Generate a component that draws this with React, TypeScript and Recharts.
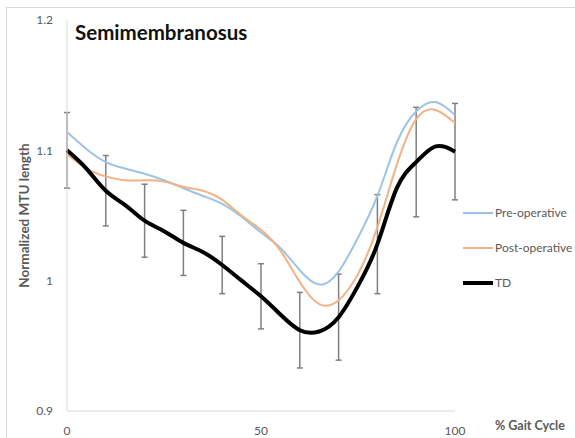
import React from 'react';
import { ComposedChart, Line, Scatter, ErrorBar, XAxis, YAxis, Legend } from 'recharts';

// % gait cycle sample points
const gait = [0, 5, 10, 15, 20, 25, 30, 35, 40, 45, 50, 55, 60, 65, 70, 75, 80, 85, 90, 95, 100];

const preOp = [1.114, 1.101, 1.091, 1.086, 1.082, 1.077, 1.071, 1.065, 1.059, 1.049, 1.037, 1.025, 1.008, 0.997, 1.007, 1.033, 1.065, 1.106, 1.130, 1.137, 1.127];
const postOp = [1.097, 1.086, 1.080, 1.077, 1.077, 1.076, 1.072, 1.069, 1.062, 1.050, 1.039, 1.023, 0.999, 0.982, 0.985, 1.005, 1.041, 1.089, 1.124, 1.131, 1.121];
const td = [1.100, 1.086, 1.069, 1.058, 1.046, 1.038, 1.029, 1.022, 1.012, 1.000, 0.988, 0.974, 0.962, 0.961, 0.972, 0.996, 1.028, 1.071, 1.091, 1.103, 1.099];

// TD standard deviation, every 10%
const sdGait = [0, 10, 20, 30, 40, 50, 60, 70, 80, 90, 100];
const tdSd = [0.029, 0.027, 0.028, 0.025, 0.022, 0.025, 0.029, 0.033, 0.038, 0.042, 0.037];

const yTicks = [0.9, 1, 1.1, 1.2];
const xTicks = [0, 50, 100];
const legendOrder = ['Pre-operative', 'Post-operative', 'TD'];

const rows = gait.map((x, i) => ({ x, pre: preOp[i], post: postOp[i], td: td[i] }));
const sdRows = sdGait.map((x, i) => ({ x, y: td[gait.indexOf(x)], sd: tdSd[i] }));

const FONT = 'Lato, "Open Sans", sans-serif';
const GRAY_TXT = '#595959';

const legendWidths: Record<string, number> = { 'Pre-operative': 2, 'Post-operative': 2, TD: 4 };

const LegendBox = (props: any) => {
  const items = (props.payload || [])
    .filter((p: any) => p.type !== 'none')
    .sort((a: any, b: any) => legendOrder.indexOf(a.value) - legendOrder.indexOf(b.value));
  return (
    <div style={{ fontFamily: FONT, fontSize: 12, color: GRAY_TXT }}>
      {items.map((p: any) => (
        <div key={p.value} style={{ height: 35, display: 'flex', alignItems: 'center' }}>
          <svg width={30} height={6} style={{ marginRight: 2 }}>
            <line x1={0} y1={3} x2={30} y2={3} stroke={p.color} strokeWidth={legendWidths[p.value] || 2} />
          </svg>
          <span>{p.value}</span>
        </div>
      ))}
    </div>
  );
};

const YLabel = ({ viewBox }: any) => (
  <text
    x={viewBox.x - 1}
    y={viewBox.y + viewBox.height / 2}
    transform={`rotate(-90, ${viewBox.x - 1}, ${viewBox.y + viewBox.height / 2})`}
    textAnchor="middle"
    dominantBaseline="middle"
    fontFamily={FONT}
    fontSize={13.5}
    fontWeight="bold"
    fill={GRAY_TXT}
  >
    Normalized MTU length
  </text>
);

const XLabel = ({ viewBox }: any) => (
  <text
    x={viewBox.x + viewBox.width + 40}
    y={viewBox.y + 16}
    textAnchor="start"
    dominantBaseline="middle"
    fontFamily={FONT}
    fontSize={12.5}
    fontWeight="bold"
    fill={GRAY_TXT}
  >
    % Gait Cycle
  </text>
);

export default function App() {
  return (
    <div style={{ position: 'absolute', left: 0, top: 0, width: 575, height: 438, overflow: 'hidden', background: '#fff' }}>
      <div style={{ position: 'absolute', left: 6, top: 7, width: 600, height: 500, border: '1px solid #d9d9d9' }} />
      <ComposedChart width={575} height={438} margin={{ top: 20, right: 120, bottom: 7, left: 27 }}>
        <XAxis
          type="number"
          dataKey="x"
          domain={[0, 100]}
          ticks={xTicks}
          stroke="#d9d9d9"
          tickLine={false}
          tickMargin={9}
          height={20}
          tick={{ fill: GRAY_TXT, fontSize: 12, fontFamily: FONT }}
          label={{ content: XLabel }}
        />
        <YAxis
          type="number"
          domain={[0.9, 1.2]}
          ticks={yTicks}
          stroke="#d9d9d9"
          tickLine={false}
          tickMargin={8}
          width={40}
          tick={{ fill: GRAY_TXT, fontSize: 12, fontFamily: FONT }}
          label={{ content: YLabel }}
        />
        <Scatter data={sdRows} dataKey="y" legendType="none" isAnimationActive={false} shape={() => <g />}>
          <ErrorBar dataKey="sd" direction="y" width={3} stroke="#7f7f7f" strokeWidth={1.5} isAnimationActive={false} />
        </Scatter>
        <Line data={rows} dataKey="pre" name="Pre-operative" type="natural" stroke="#9dc3e6" strokeWidth={2} dot={false} isAnimationActive={false} />
        <Line data={rows} dataKey="post" name="Post-operative" type="natural" stroke="#f4b183" strokeWidth={2} dot={false} isAnimationActive={false} />
        <Line data={rows} dataKey="td" name="TD" type="natural" stroke="#000" strokeWidth={4} dot={false} isAnimationActive={false} />
        <Legend
          layout="vertical"
          align="center"
          verticalAlign="middle"
          content={LegendBox}
          wrapperStyle={{ left: 463, top: 195, width: 112 }}
        />
      </ComposedChart>
      <div style={{ position: 'absolute', left: 75, top: 20, fontFamily: FONT, fontWeight: 'bold', fontSize: 20.5, color: '#111' }}>
        Semimembranosus
      </div>
    </div>
  );
}
